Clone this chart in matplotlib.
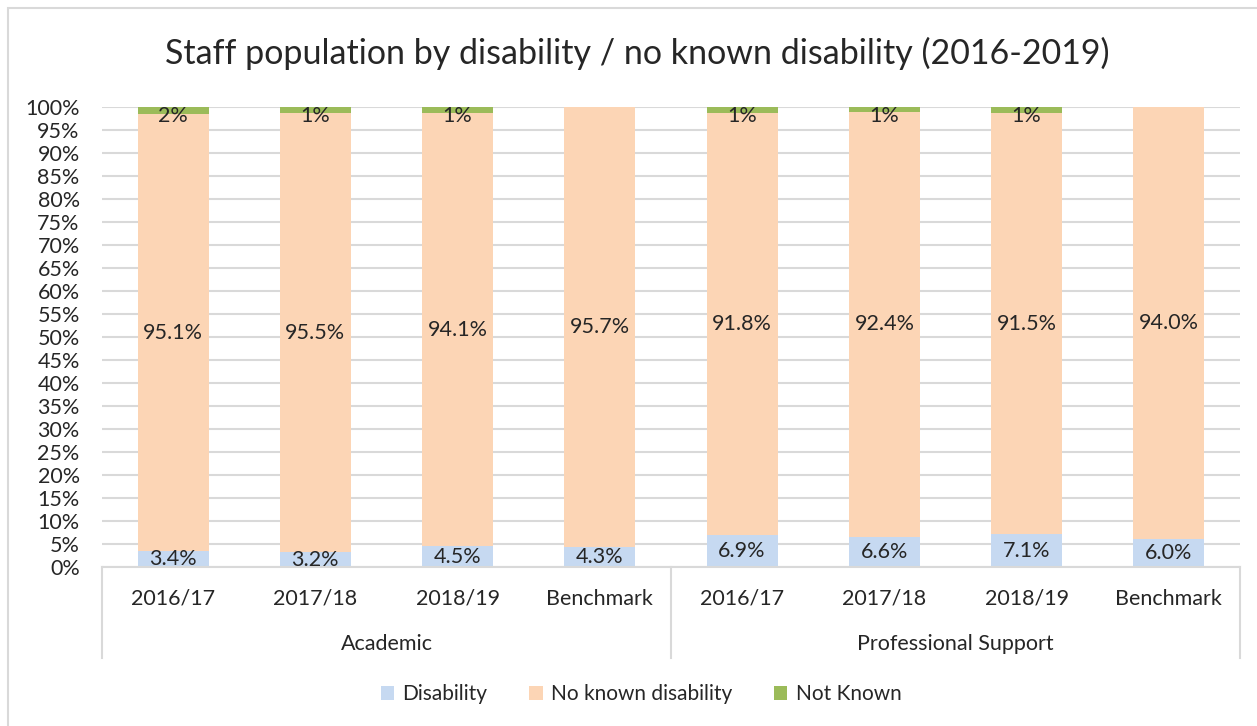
import matplotlib
matplotlib.use("Agg")
import matplotlib.pyplot as plt
from matplotlib.patches import Rectangle
from matplotlib.ticker import MultipleLocator, PercentFormatter

plt.rcParams['font.family'] = ['Lato', 'DejaVu Sans']

# staff populations, in percent
groups = ["Academic", "Professional Support"]
years = ["2016/17", "2017/18", "2018/19", "Benchmark"]
disability = [3.4, 3.2, 4.5, 4.3, 6.9, 6.6, 7.1, 6.0]
no_known = [95.1, 95.5, 94.1, 95.7, 91.8, 92.4, 91.5, 94.0]
not_known = [1.5, 1.3, 1.4, 0.0, 1.3, 1.0, 1.4, 0.0]

c_dis = "#C6D9F1"
c_nk = "#FCD5B5"
c_unk = "#9BBB59"
grid_c = "#D9D9D9"
txt_c = "#262626"
fs = 15.5

fig = plt.figure(figsize=(12.57, 7.26), dpi=100)
ax = fig.add_axes([0.0811, 0.219, 0.9054, 0.6336])

# outer chart frame
fig.patches.append(Rectangle((8 / 1257, -0.01), 1.0, 1 - 8 / 726 + 0.01,
                             transform=fig.transFigure, fill=False,
                             edgecolor=grid_c, lw=1.5))

x = list(range(len(disability)))
bottom2 = [a + b for a, b in zip(disability, no_known)]
w = 0.5
ax.bar(x, disability, w, color=c_dis, label="Disability", zorder=2)
ax.bar(x, no_known, w, bottom=disability, color=c_nk, label="No known disability", zorder=2)
ax.bar(x, not_known, w, bottom=bottom2, color=c_unk, label="Not Known", zorder=2)

for i in x:
    ax.text(i, disability[i] / 2, f"{disability[i]:.1f}%", ha="center", va="center",
            fontsize=fs, color=txt_c, zorder=3)
    ax.text(i, disability[i] + no_known[i] / 2, f"{no_known[i]:.1f}%", ha="center",
            va="center", fontsize=fs, color=txt_c, zorder=3)
    if not_known[i] > 0:
        ax.text(i, 100.2, f"{not_known[i]:.0f}%", ha="center", va="top",
                fontsize=fs, color=txt_c, zorder=3)

ax.set_xlim(-0.5, len(x) - 0.5)
ax.set_ylim(0, 100)
ax.yaxis.set_major_locator(MultipleLocator(5))
ax.yaxis.set_major_formatter(PercentFormatter(decimals=0))
ax.grid(axis="y", color=grid_c, lw=1.5, zorder=0)
ax.tick_params(axis="y", length=0, labelsize=fs, labelcolor=txt_c, pad=16)
ax.tick_params(axis="x", length=0, labelbottom=False)
for s in ["top", "right", "left"]:
    ax.spines[s].set_visible(False)
ax.spines["bottom"].set_color(grid_c)
ax.spines["bottom"].set_linewidth(1.5)

# two-level category axis
tr = ax.get_xaxis_transform()
for xv in [-0.5, 3.5, 7.5]:
    ax.plot([xv, xv], [0, -0.198], transform=tr, color=grid_c, lw=1.5, clip_on=False)
for i in x:
    ax.text(i, -0.069, years[i % 4], transform=tr, ha="center", va="center",
            fontsize=fs, color=txt_c)
for g, name in enumerate(groups):
    ax.text(g * 4 + 1.5, -0.167, name, transform=tr, ha="center", va="center",
            fontsize=fs, color=txt_c)

fig.text(0.507, 0.926, "Staff population by disability / no known disability (2016-2019)",
         ha="center", va="center", fontsize=24.5, color=txt_c)

fig.legend(loc="center", bbox_to_anchor=(0.51, 0.044), ncol=3, frameon=False,
           fontsize=15, handlelength=0.65, handleheight=0.65, handletextpad=0.4,
           columnspacing=2.0, labelcolor=txt_c)

fig.savefig("out.png", dpi=100)
